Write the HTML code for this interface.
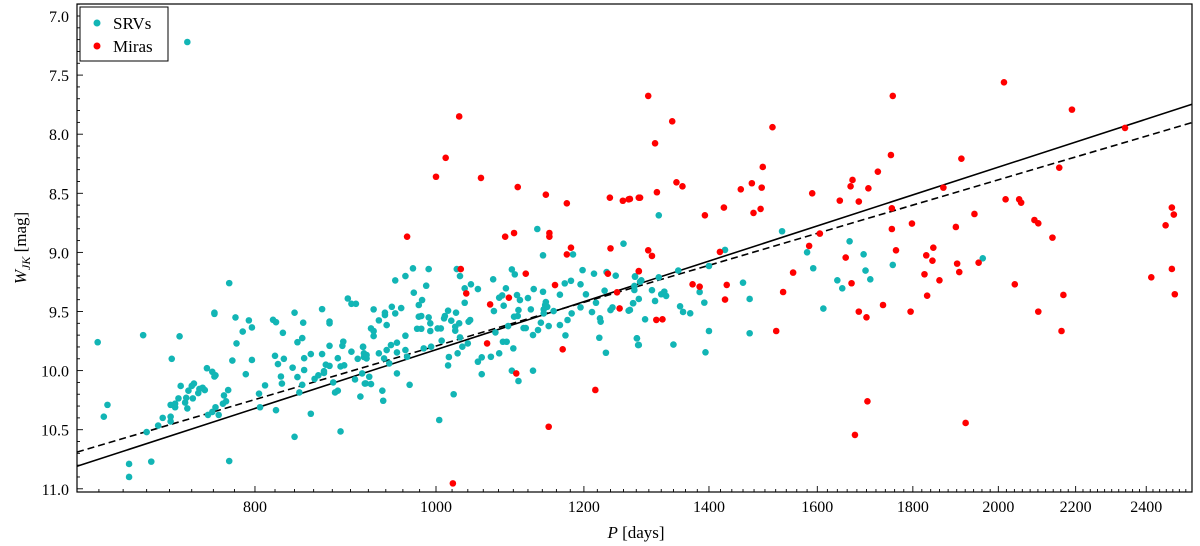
<!DOCTYPE html>
<html><head><meta charset="utf-8">
<style>
html,body{margin:0;padding:0;background:#fff;}
svg{display:block;font-family:"Liberation Serif","DejaVu Serif",serif;}
</style></head>
<body>
<svg id="chart" width="1200" height="546" viewBox="0 0 1200 546" xmlns="http://www.w3.org/2000/svg">
<rect width="1200" height="546" fill="#fff"/>
<g id="ticks"></g>
<g id="lines"></g>
<g id="pts"></g>
<rect x="77" y="4" width="1115" height="488" fill="none" stroke="#000" stroke-width="1.2"/>
<g>
<rect x="80" y="7" width="88" height="54" fill="#fff" stroke="#000" stroke-width="1"/>
<circle cx="97" cy="23" r="3.5" fill="#12b5b5"/>
<text x="113" y="29" font-size="17">SRVs</text>
<circle cx="97" cy="46" r="3.5" fill="#ff0000"/>
<text x="113" y="52" font-size="17">Miras</text>
</g>
<text x="636" y="538" font-size="17" text-anchor="middle"><tspan font-style="italic">P</tspan> [days]</text>
<text transform="translate(26,248) rotate(-90)" font-size="17" text-anchor="middle"><tspan font-style="italic">W</tspan><tspan font-style="italic" font-size="12" dy="4">JK</tspan><tspan dy="-4"> [mag]</tspan></text>
</svg>
<script>
const srvP=[659,664,667,685,685,697,700,704,710,714,721,721,721,725,725,722,729,728,730,734,735,736,737,740,742,741,746,747,750,752,754,755,759,761,761,761,762,759,762,765,770,769,772,774,775,775,778,781,782,788,791,794,797,797,804,805,810,818,821,820,823,821,826,827,828,829,838,840,840,843,843,845,848,849,850,850,848,857,857,861,865,869,869,871,871,873,877,877,877,877,881,883,886,889,886,889,891,892,893,897,901,906,901,905,908,911,914,915,916,
913,917,923,921,918,915,918,914,923,926,926,926,932,932,936,937,938,939,939,941,941,944,946,947,951,953,953,953,951,958,963,963,963,965,968,972,973,977,979,982,979,982,983,985,988,991,993,993,991,994,1002,1006,1007,1004,1010,1011,1015,1015,1016,1019,1022,1024,1024,1025,1026,1029,1027,1030,1033,1030,1036,1036,1040,1041,1043,1044,1053,1053,1058,1058,1070,1073,1074,1076,1081,1081,1085,1086,1087,1090,1091,1093,1098,1100,1098,1101,1102,1106,1105,1107,1107,1109,1114,1117,1120,1124,1127,1127,1128,1134,1133,1138,1141,1141,1142,1144,1145,1147,1142,1149,1156,1165,1165,1172,1173,1176,1181,1182,1184,1195,1195,1198,1203,1212,1215,1218,1223,1224,1225,1233,1231,1234,1240,1243,1248,1260,1268,1275,1278,1281,1283,1286,
1316,1278,1277,1277,1288,1275,1270,1284,1294,1281,1284,1305,1310,1316,1320,1325,1328,1340,1348,1351,1356,1368,1384,1392,1394,1400,1400,1428,1460,1472,1472,1532,1580,1592,1612,1640,1650,1665,1694,1698,1708,1756,1962,736];
const srvW=[9.76,10.39,10.29,10.79,10.90,9.70,10.52,10.77,10.465,10.40,10.39,10.43,10.29,10.28,10.31,9.90,9.71,10.235,10.13,10.27,10.23,10.32,10.17,10.13,10.11,10.235,10.19,10.155,10.145,10.165,9.98,10.375,10.01,9.52,9.51,10.05,10.04,10.35,10.31,10.375,10.21,10.28,10.26,10.165,9.26,10.765,9.915,9.55,9.77,9.67,10.03,9.575,9.635,9.91,10.195,10.31,10.125,9.57,9.59,9.875,9.945,10.335,10.05,10.11,9.68,9.90,9.975,10.56,9.51,9.76,10.055,10.185,9.725,9.595,9.895,9.995,10.12,9.86,10.365,10.07,10.04,9.48,9.86,10.02,10.005,9.95,9.585,9.60,9.79,9.96,10.10,10.185,10.17,10.515,9.895,9.965,9.79,9.755,9.955,9.39,9.435,9.435,9.84,10.075,9.90,10.22,9.80,9.885,10.11,
10.024,10.108,10.114,10.052,9.897,9.854,9.868,9.798,9.643,9.665,9.708,9.482,9.854,9.575,10.17,10.255,9.897,9.53,9.51,9.615,9.826,9.939,9.784,9.46,9.516,9.764,9.846,10.024,9.237,9.471,9.2,9.705,9.826,9.883,10.12,9.135,9.341,9.646,9.445,9.646,9.544,9.538,9.403,9.812,9.282,9.55,9.6,9.665,9.141,9.798,9.643,9.643,9.747,10.418,9.558,9.538,9.493,9.956,9.885,9.578,10.2,9.662,9.629,9.51,9.141,9.6,9.854,9.719,9.798,9.2,9.426,9.304,9.77,9.586,9.572,9.27,9.31,9.925,9.888,10.03,9.883,9.228,9.496,9.677,9.854,9.383,9.364,9.756,9.451,9.304,9.756,9.623,9.144,9.812,10.001,9.544,9.186,9.538,9.361,10.088,9.488,9.403,9.64,9.64,9.386,9.482,9.699,10.001,9.31,9.657,8.802,9.595,9.333,9.025,9.482,9.445,9.42,9.46,9.516,9.623,9.496,9.358,9.615,9.262,9.702,9.572,9.24,9.516,9.017,9.465,9.27,9.15,9.355,9.505,9.18,9.426,9.722,9.558,9.586,9.849,9.324,9.166,9.488,9.465,9.197,8.926,9.493,9.431,9.206,9.727,9.784,9.248,
8.686,9.202,9.284,9.318,9.236,9.43,9.487,9.394,9.566,9.727,9.783,9.32,9.411,9.211,9.354,9.332,9.368,9.78,9.154,9.456,9.504,9.515,9.335,9.425,9.845,9.665,9.115,8.979,9.256,9.394,9.684,8.821,8.999,9.134,9.475,9.236,9.304,8.906,9.016,9.154,9.228,9.106,9.05,7.22];
const miraP=[1029,1012,1000,1057,1106,1145,1175,1239,1259,1268,1284,965,1089,1101,1150,1150,1181,1175,1240,1031,1038,1117,1158,1236,1250,1254,1284,1094,1069,1065,1169,1104,1217,1149,1021,
1299,1338,1310,1270,1286,1313,1345,1355,1299,1305,1284,1312,1322,1372,1384,1393,1419,1426,1431,1428,1456,1476,1479,1492,1494,1496,1514,1521,1534,1553,1584,1590,1605,1645,1657,1667,1671,1669,1684,1684,1700,1704,1702,1676,1724,1735,1752,1754,1754,1763,1756,1798,1795,
2014,2190,2338,1911,2156,1869,2018,2052,2057,1942,1898,2091,2101,2138,2477,2483,2458,1846,1830,1844,1826,1860,1901,1906,1952,2041,1832,2101,2167,2162,2415,2477,2486,1921];
const miraW=[7.85,8.20,8.36,8.37,8.447,8.512,8.585,8.537,8.563,8.551,8.537,8.867,8.867,8.836,8.867,8.836,8.96,9.017,8.966,9.141,9.347,9.18,9.276,9.18,9.338,9.474,9.158,9.383,9.44,9.77,9.82,10.024,10.164,10.475,10.954,
7.676,7.891,8.077,8.548,8.537,8.491,8.407,8.441,8.982,9.03,9.16,9.571,9.566,9.27,9.29,8.686,8.996,8.621,9.275,9.399,8.466,8.415,8.666,8.632,8.452,8.277,7.941,9.665,9.335,9.171,8.945,8.5,8.841,8.562,9.044,8.441,8.387,9.261,8.57,9.501,9.549,8.458,10.26,10.544,8.317,9.445,8.176,8.627,8.802,8.982,7.676,8.756,9.501,
7.561,7.792,7.947,8.207,8.283,8.452,8.551,8.551,8.579,8.675,8.785,8.726,8.754,8.875,8.621,8.68,8.771,8.96,9.025,9.07,9.185,9.236,9.095,9.166,9.087,9.27,9.366,9.501,9.36,9.665,9.211,9.14,9.354,10.443];
const xTickVals=[800,1000,1200,1400,1600,1800,2000,2200,2400];
const yTickVals=[7.0,7.5,8.0,8.5,9.0,9.5,10.0,10.5,11.0];
const fitSolid=[25.213,-5.13];
const fitDashed=[23.805,-4.671];

const X0=77,X1=1192,Y0=4,Y1=492;
const PX=1868, P0=1000, PX0=436;
function xs(p){return PX0+PX*Math.log10(p/P0);}
function ys(w){return 16+(w-7)*118.2;}
const PMIN=P0*Math.pow(10,(X0-PX0)/PX), PMAX=P0*Math.pow(10,(X1-PX0)/PX);
const NS="http://www.w3.org/2000/svg";
function mk(tag,attrs,parent){const e=document.createElementNS(NS,tag);for(const k in attrs)e.setAttribute(k,attrs[k]);parent.appendChild(e);return e;}
const tg=document.getElementById('ticks');
for(let p=660;p<=2520;p+=20){
  const x=xs(p); if(x<X0||x>X1)continue;
  const major=xTickVals.indexOf(p)>=0;
  const t=mk('line',{x1:x,x2:x,y1:Y1,y2:Y1-(major?6:3),stroke:'#000','stroke-width':0.9},tg);
  
  
}
xTickVals.forEach(v=>{
  const t=mk('text',{x:xs(v),y:512,'font-size':16,'text-anchor':'middle'},tg);
  t.textContent=String(v);
  
  
});
for(let i=69;i<=110;i++){
  const w=i/10, y=ys(w); if(y<Y0||y>Y1)continue;
  const major=(i%5===0);
  const t=mk('line',{x1:X0,x2:X0+(major?6:3),y1:y,y2:y,stroke:'#000','stroke-width':0.9},tg);
  
  
}
yTickVals.forEach(v=>{
  const t=mk('text',{x:69,y:ys(v)+6,'font-size':16,'text-anchor':'end'},tg);
  t.textContent=v.toFixed(1);
  
  
});
const lg=document.getElementById('lines');
function fitLine(f,dash,name){
  const wa=f[0]+f[1]*Math.log10(PMIN), wb=f[0]+f[1]*Math.log10(PMAX);
  const l=mk('line',{x1:xs(PMIN),y1:ys(wa),x2:xs(PMAX),y2:ys(wb),stroke:'#000','stroke-width':1.6},lg);
  if(dash)l.setAttribute('stroke-dasharray','7,4');
  
  
}
fitLine(fitSolid,false,'fit-line-solid');
fitLine(fitDashed,true,'fit-line-dashed');
const pg=document.getElementById('pts');
srvP.forEach((p,i)=>{
  const c=mk('circle',{cx:xs(p),cy:ys(srvW[i]),r:3.3,fill:'#12b5b5'},pg);
  
  
});
miraP.forEach((p,i)=>{
  const c=mk('circle',{cx:xs(p),cy:ys(miraW[i]),r:3.3,fill:'#ff0000'},pg);
  
  
});
</script>
</body></html>
